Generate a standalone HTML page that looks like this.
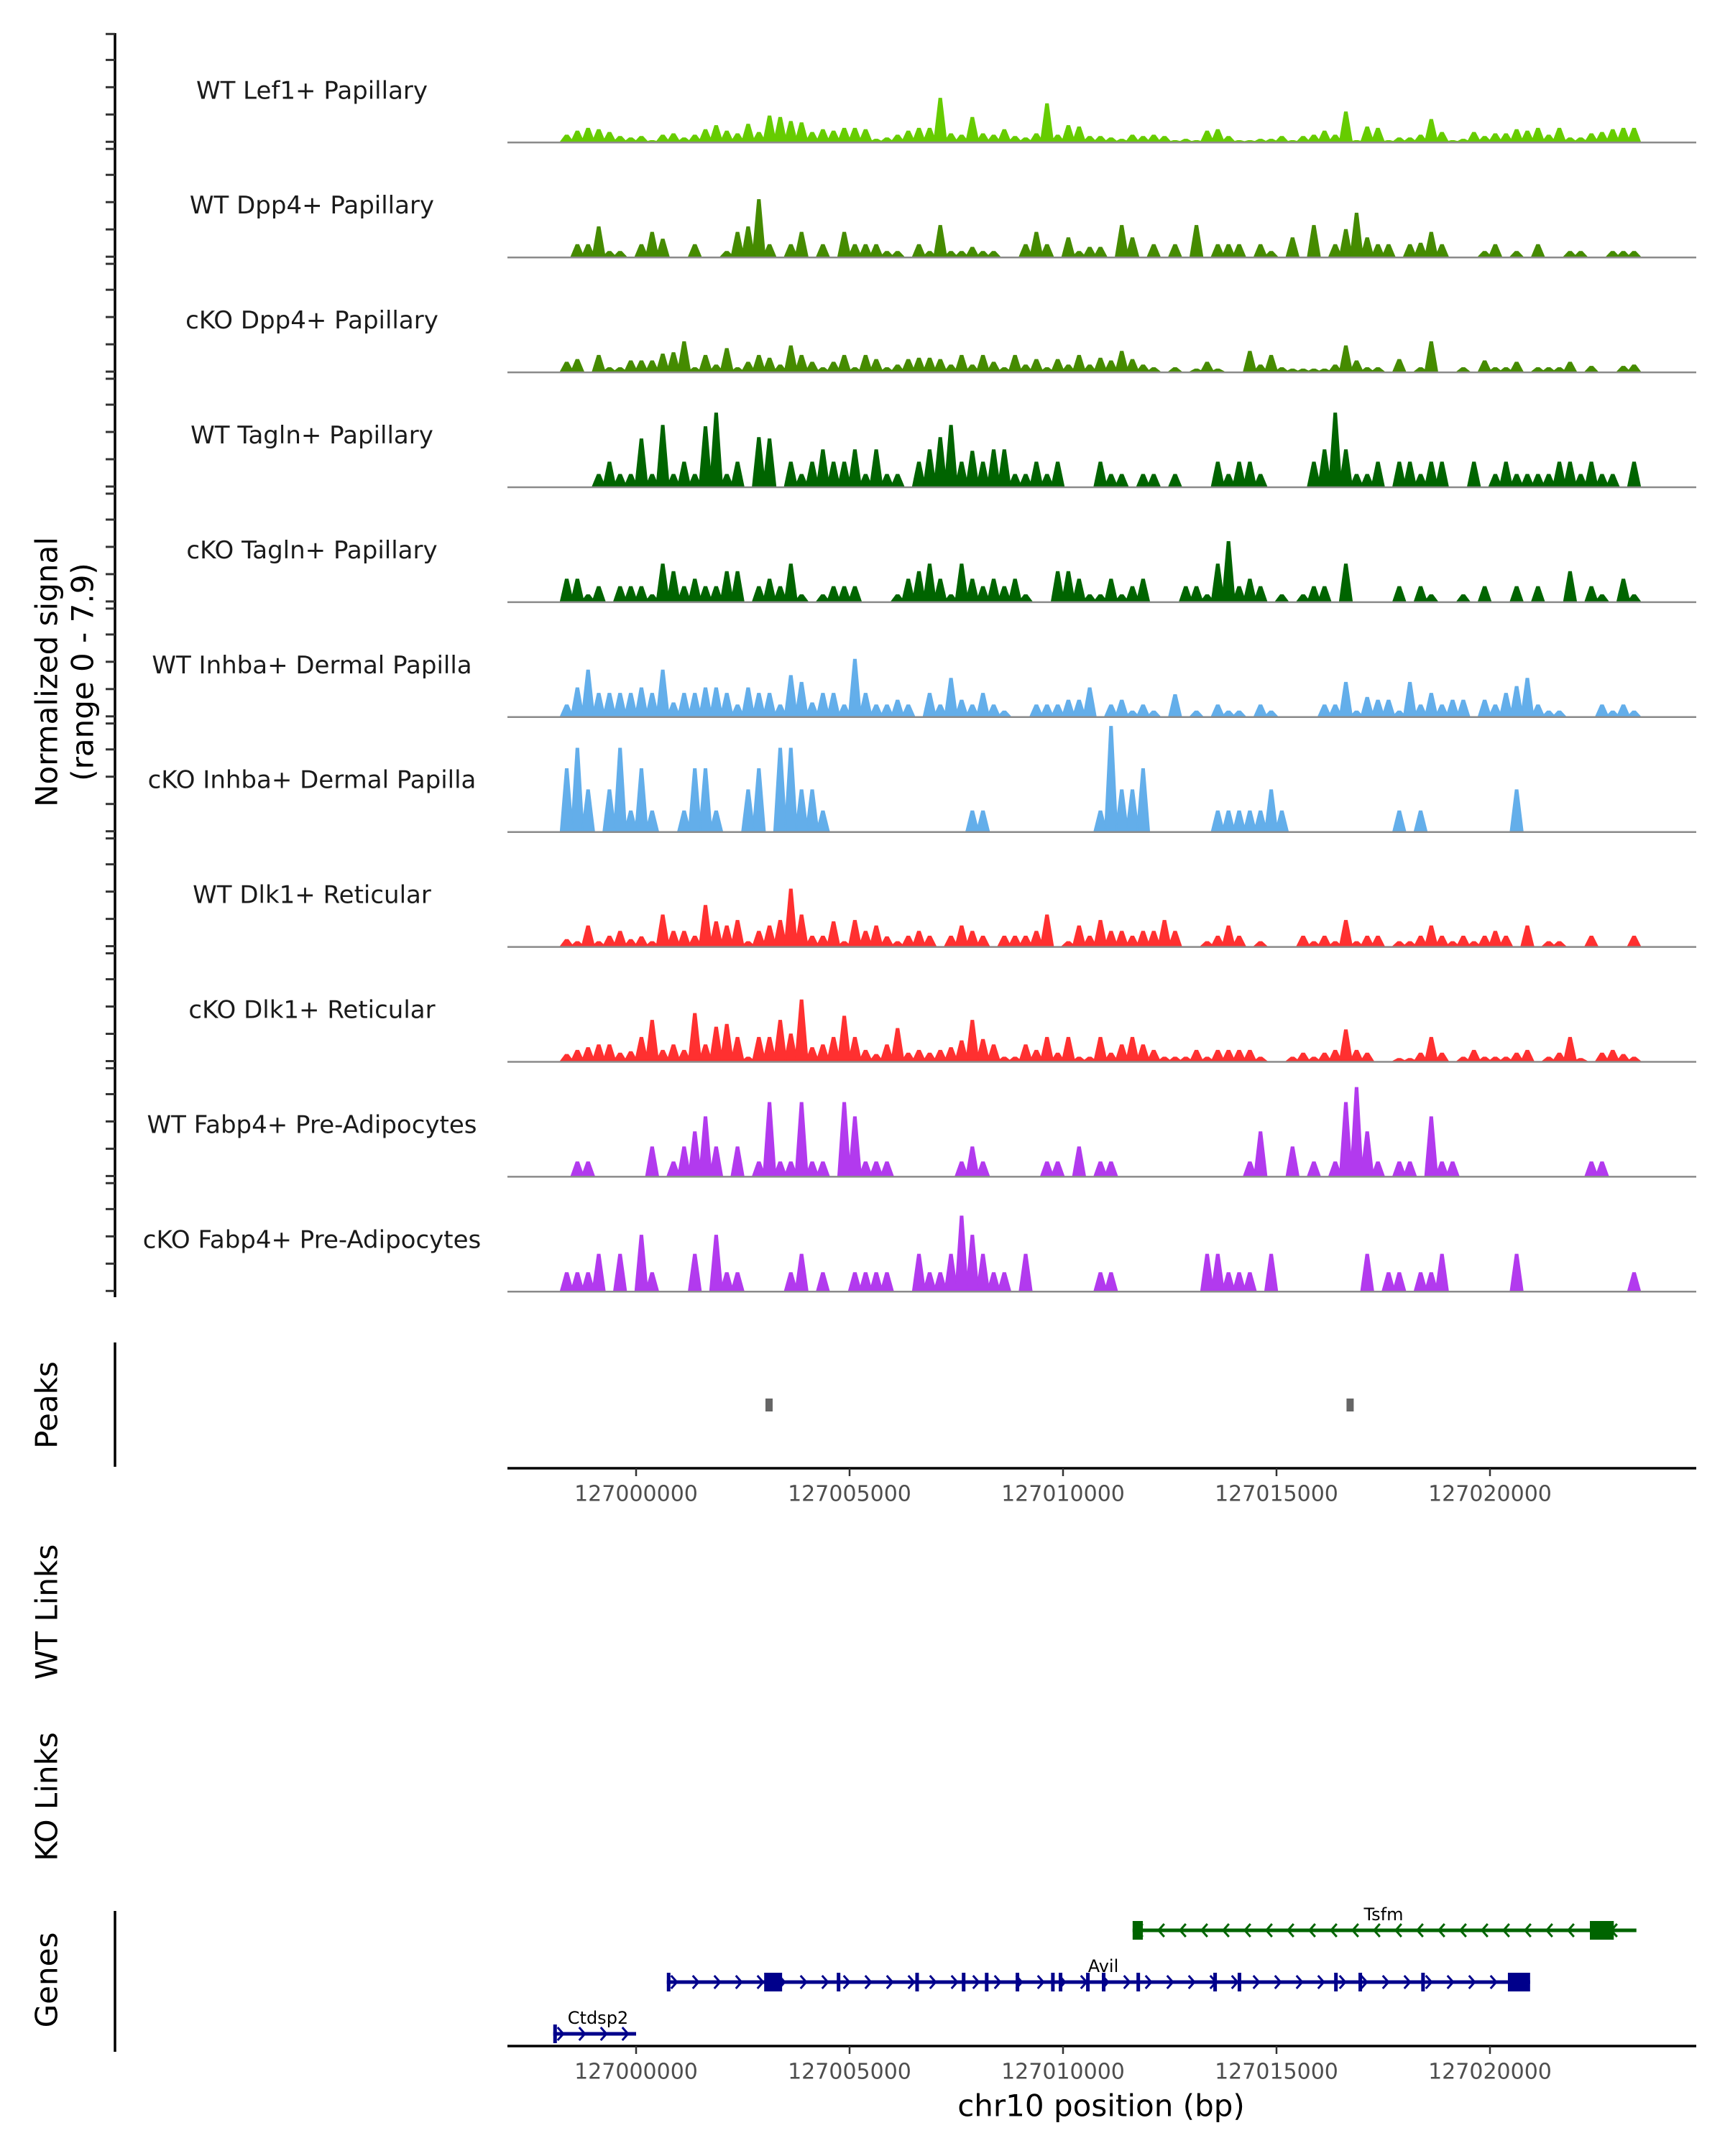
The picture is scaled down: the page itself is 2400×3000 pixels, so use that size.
<!DOCTYPE html>
<html><head><meta charset="utf-8"><title>Coverage plot chr10</title>
<style>
html,body{margin:0;padding:0;background:#fff;}
svg{display:block;font-family:"DejaVu Sans","Liberation Sans",sans-serif;}
</style></head>
<body>
<svg id="chart" width="2400" height="3000" viewBox="0 0 2400 3000" xmlns="http://www.w3.org/2000/svg">
<rect x="0" y="0" width="2400" height="3000" fill="#fff"/>
<g id="tracks"></g>
<line x1="160" y1="46" x2="160" y2="1805" stroke="#000" stroke-width="3.5"/>
<g id="yticks"></g>
<text transform="translate(65,935) rotate(-90)" text-anchor="middle" dominant-baseline="central" font-size="42" fill="#000">Normalized signal</text>
<text transform="translate(115,935) rotate(-90)" text-anchor="middle" dominant-baseline="central" font-size="42" fill="#000">(range 0 - 7.9)</text>

<line x1="160" y1="1868" x2="160" y2="2041" stroke="#000" stroke-width="3.5"/>
<text transform="translate(65,1955) rotate(-90)" text-anchor="middle" dominant-baseline="central" font-size="42">Peaks</text>
<g id="peaks"></g>
<g id="axis1"></g>

<text transform="translate(65,2243) rotate(-90)" text-anchor="middle" dominant-baseline="central" font-size="42">WT Links</text>
<text transform="translate(65,2500) rotate(-90)" text-anchor="middle" dominant-baseline="central" font-size="42">KO Links</text>

<line x1="160" y1="2659" x2="160" y2="2855" stroke="#000" stroke-width="3.5"/>
<text transform="translate(65,2755) rotate(-90)" text-anchor="middle" dominant-baseline="central" font-size="42">Genes</text>
<g id="genes"></g>
<g id="axis2"></g>
<text x="1532" y="2930" text-anchor="middle" dominant-baseline="central" font-size="42" fill="#000">chr10 position (bp)</text>
</svg>
<script>
// ---- data ----
const trackLabels = ["WT Lef1+ Papillary","WT Dpp4+ Papillary","cKO Dpp4+ Papillary","WT Tagln+ Papillary","cKO Tagln+ Papillary","WT Inhba+ Dermal Papilla","cKO Inhba+ Dermal Papilla","WT Dlk1+ Reticular","cKO Dlk1+ Reticular","WT Fabp4+ Pre-Adipocytes","cKO Fabp4+ Pre-Adipocytes"];
const trackColors = ["#66cc00","#458b00","#458b00","#006400","#006400","#63aeea","#63aeea","#ff3030","#ff3030","#b23aee","#b23aee"];
const binStartKb = -1.625;
const binSizeKb = 0.25;
const wtLef1 = [.5,.8,1.0,.9,.7,.4,.3,.4,.1,.5, .6,.3,.5,.9,1.2,.8,.6,1.3,.7,1.9, 1.8,1.5,1.4,.7,.9,.8,1.0,1.0,.9,.2, .3,.5,.8,1.0,1.0,3.2,.6,.5,1.8,.6, .5,.9,.4,.3,.6,2.8,.5,1.2,1.1,.4, .4,.3,.2,.5,.4,.5,.4,.1,.2,.1, .8,.9,.4,.1,.1,.2,.2,.4,.1,.4, .5,.8,.5,2.2,.1,1.1,1.0,.1,.3,.3, .5,1.65,.7,.1,.2,.7,.4,.6,.6,.9, .8,1.0,.5,1.0,.3,.3,.6,.7,.9,1.0,1.0];
const wtDpp4 = [0,.9,.9,2.2,.4,.4,0,.9,1.8,1.3, 0,0,.9,0,0,.4,1.8,2.2,4.2,.9, 0,.9,1.8,0,.9,0,1.8,.9,.9,.9, .4,.4,0,.9,.4,2.3,.4,.4,.7,.4, .4,0,0,.9,1.8,.9,0,1.4,.4,.7, .7,0,2.3,1.4,0,.9,0,.9,0,2.3, 0,.9,.9,.9,0,.9,.4,0,1.4,0, 2.3,0,.9,2.0,3.2,1.4,.9,.9,0,.9, 1.0,1.8,.9,0,0,0,.4,.9,0,.4, 0,.9,0,0,.4,.4,0,0,.4,.4,.4];
const koDpp4 = [.7,.9,0,1.2,.3,.3,.8,.8,.8,1.3, 1.4,2.2,.3,1.2,.5,1.7,.3,.7,1.2,1.0, .5,1.9,1.2,.7,.3,.7,1.2,.3,1.2,.9, .3,.5,.9,1.0,1.0,.9,.5,1.2,.5,1.2, .7,.3,1.2,.5,.9,.3,.9,.5,1.2,.5, 1.0,.8,1.5,.9,.5,.3,0,.3,0,.2, .7,.2,0,0,1.5,.5,1.2,.3,.2,.2, .2,.2,.5,1.9,.8,.3,.3,0,.9,0, .3,2.2,0,0,.3,0,.8,.3,.3,.7, 0,.3,.3,.3,.7,0,.4,0,0,.4,.5];
const wtTagln = [0,0,0,.9,1.8,.9,.9,3.5,.9,4.5, .9,1.8,.9,4.4,5.4,.9,1.8,0,3.6,3.5, 0,1.8,.9,1.8,2.7,1.8,1.8,2.7,.9,2.7, .9,.9,0,1.8,2.7,3.6,4.5,1.8,2.6,1.8, 2.7,2.7,.9,.9,1.8,.9,1.8,0,0,0, 1.8,.9,.9,0,.9,.9,0,.9,0,0, 0,1.8,.9,1.8,1.8,.9,0,0,0,0, 1.8,2.7,5.4,2.7,.9,.9,1.8,0,1.8,1.8, .9,1.8,1.8,0,0,1.8,0,.9,1.8,.9, .9,.9,.9,1.8,1.8,.9,1.8,.9,.9,0,1.8];
const koTagln = [1.65,1.65,.5,1.1,0,1.1,1.1,1.1,.5,2.75, 2.2,1.1,1.65,1.1,1.1,2.2,2.2,0,1.1,1.65, 1.1,2.75,.5,0,.5,1.1,1.1,1.1,0,0, 0,.5,1.65,2.2,2.75,1.65,.5,2.75,1.65,1.1, 1.65,1.1,1.65,.5,0,0,2.2,2.2,1.65,.5, .5,1.65,.5,1.1,1.65,0,0,0,1.1,1.1, .5,2.75,4.4,1.1,1.65,1.1,0,.5,0,.5, 1.1,1.1,0,2.75,0,0,0,0,1.1,0, 1.1,.5,0,0,.5,0,1.1,0,0,1.1, 0,1.1,0,0,2.2,0,1.1,.5,0,1.65,.5];
const wtInhba = [.85,2.1,3.4,1.7,1.7,1.7,1.7,2.1,1.7,3.4, 1.0,1.7,1.7,2.1,2.1,1.7,.85,2.1,1.7,1.7, .85,3.0,2.5,1.0,1.7,1.7,.85,4.2,1.7,.85, .85,1.2,.85,0,1.7,.85,2.8,1.2,.85,1.7, .85,.4,0,0,.85,.85,.85,1.2,1.2,2.1, 0,.85,1.2,.4,.85,.4,0,1.6,0,.4, 0,.85,.4,.4,0,.85,.4,0,0,0, 0,.85,.85,2.5,.4,1.4,1.2,1.2,.4,2.5, .85,1.7,.85,1.2,1.2,0,1.2,.85,1.7,2.2, 2.8,.85,.4,.4,0,0,0,.85,.4,.85,.4];
const koInhba = [4.6,6.1,3.05,0,3.05,6.1,1.5,4.6,1.5,0, 0,1.5,4.6,4.6,1.5,0,0,3.05,4.6,0, 6.1,6.1,3.05,3.05,1.5,0,0,0,0,0, 0,0,0,0,0,0,0,0,1.5,1.5, 0,0,0,0,0,0,0,0,0,0, 1.5,7.7,3.05,3.05,4.6,0,0,0,0,0, 0,1.5,1.5,1.5,1.5,1.5,3.05,1.5,0,0, 0,0,0,0,0,0,0,0,1.5,0, 1.5,0,0,0,0,0,0,0,0,3.05, 0,0,0,0,0,0,0,0,0,0,0];
const wtDlk1 = [.5,.35,1.5,.35,.75,1.1,.5,.7,.35,2.3, 1.1,1.1,.75,3.0,1.8,1.5,1.9,.35,1.1,1.5, 1.9,4.2,2.3,.75,.75,1.8,.35,1.9,1.1,1.5, .7,.35,.75,1.1,.75,0,.75,1.5,1.1,.75, 0,.75,.75,.75,1.1,2.3,0,.35,1.5,.75, 1.9,1.1,1.1,.75,1.1,1.1,1.9,1.1,0,0, .35,.75,1.5,.75,0,.35,0,0,0,.75, .35,.75,.35,1.9,.35,.75,.75,0,.35,.35, .75,1.5,.75,.35,.75,.35,.75,1.1,.75,0, 1.5,0,.35,.35,0,0,.75,0,0,0,.75];
const koDlk1 = [.5,.8,1.0,1.2,1.2,.6,.7,1.75,3.0,.8, 1.2,.8,3.5,1.2,2.5,2.7,1.75,.3,1.75,1.75, 3.0,2.0,4.5,1.0,1.2,1.75,3.3,1.75,.8,.5, 1.2,2.4,.6,.8,.6,.8,1.0,1.5,3.0,1.6, 1.2,.3,.3,1.2,.8,1.75,.6,1.75,.3,.3, 1.75,.6,1.2,1.75,1.2,.8,.3,.3,.3,.8, .3,.8,.8,.8,.8,.3,0,0,.3,.6, .3,.6,.8,2.3,.8,.6,0,0,.2,.2, .6,1.75,.6,0,.3,.8,.3,.3,.3,.6, .8,0,.3,.6,1.75,.2,0,.6,.8,.5,.3];
const wtFabp4 = [0,1.05,1.05,0,0,0,0,0,2.15,0, 1.05,2.15,3.25,4.35,2.15,0,2.15,0,1.05,5.4, 1.05,1.05,5.4,1.05,1.05,0,5.4,4.35,1.05,1.05, 1.05,0,0,0,0,0,0,1.05,2.15,1.05, 0,0,0,0,0,1.05,1.05,0,2.15,0, 1.05,1.05,0,0,0,0,0,0,0,0, 0,0,0,0,1.05,3.25,0,0,2.15,0, 1.05,0,1.05,5.4,6.5,3.25,1.05,0,1.05,1.05, 0,4.35,1.05,1.05,0,0,0,0,0,0, 0,0,0,0,0,0,1.05,1.05,0,0,0];
const koFabp4 = [1.35,1.35,1.35,2.7,0,2.7,0,4.1,1.35,0, 0,0,2.7,0,4.1,1.35,1.35,0,0,0, 0,1.35,2.7,0,1.35,0,0,1.35,1.35,1.35, 1.35,0,0,2.7,1.35,1.35,2.7,5.5,4.1,2.7, 1.35,1.35,0,2.7,0,0,0,0,0,0, 1.35,1.35,0,0,0,0,0,0,0,0, 2.7,2.7,1.35,1.35,1.35,0,2.7,0,0,0, 0,0,0,0,0,2.7,0,1.35,1.35,0, 1.35,1.35,2.7,0,0,0,0,0,0,2.7, 0,0,0,0,0,0,0,0,0,0,1.35];
const trackSeries = [wtLef1,wtDpp4,koDpp4,wtTagln,koTagln,wtInhba,koInhba,wtDlk1,koDlk1,wtFabp4,koFabp4];
const signalMax = 7.9;
const yTickValues = [0,2,4,6,7.9];
const xTickKb = [0,5,10,15,20];
const xTickLabels = ["127000000","127005000","127010000","127015000","127020000"];
const peakStartsKb = [3.03,16.64];
const peakEndsKb = [3.13,16.78];
// genes (kb offset from 127000000)
const geneNames = ["Tsfm","Avil","Ctdsp2"];
const geneStarts = [11.63,0.72,-1.94];
const geneEnds = [23.43,20.94,0.0];
const geneStrands = [-1,1,1];
const geneColors = ["#006400","#00008b","#00008b"];
const tsfmExons = [[11.63,11.87],[22.34,22.9]];
const avilExons = [[0.72,0.8],[3.0,3.42],[4.7,4.76],[6.54,6.6],[7.63,7.7],[8.17,8.24],[8.89,8.95],[9.72,9.78],[9.9,9.96],[10.54,10.6],[10.91,10.98],[11.72,11.79],[13.52,13.58],[14.09,14.15],[16.35,16.42],[16.92,16.98],[18.39,18.45],[20.42,20.94]];
const ctdsp2Exons = [[-1.94,-1.9]];
const geneExons = [tsfmExons,avilExons,ctdsp2Exons];
const geneRowY = [2686,2758,2830];

// ---- scales ----
const NS = "http://www.w3.org/2000/svg";
function xs(kb){ return 885 + 59.4*kb; }
const trackHeight = 150;
function baseY(i){ return 197.3 + 159.9*i; }
function ys(i,v){ return baseY(i) - v/signalMax*trackHeight; }
function mk(tag, attrs, parent){ const e=document.createElementNS(NS,tag); for(const k in attrs) e.setAttribute(k,attrs[k]); parent.appendChild(e); return e; }

// ---- tracks ----
const tracksG = document.getElementById("tracks");
const ytG = document.getElementById("yticks");
const binPx = binSizeKb*59.4;
const baseHalf = binPx*0.62, topHalf = binPx*0.14;
trackSeries.forEach((ser, i) => {
  const g = mk("g", {}, tracksG);
  
  
  const lab = mk("text", {x:434, y:baseY(i)-71, "text-anchor":"middle", "dominant-baseline":"central", "font-size":34, fill:"#1a1a1a"}, g);
  lab.textContent = trackLabels[i];
  
  
  let d = "";
  ser.forEach((v, j) => {
    if (v <= 0) return;
    const c = xs(binStartKb + binSizeKb*j);
    const b = baseY(i);
    const t = ys(i,v);
    d += "M" + (c-baseHalf).toFixed(1) + "," + b.toFixed(1) + "L" + (c-topHalf).toFixed(1) + "," + t.toFixed(1) + "L" + (c+topHalf).toFixed(1) + "," + t.toFixed(1) + "L" + (c+baseHalf).toFixed(1) + "," + b.toFixed(1) + "Z";
  });
  const area = mk("path", {d:d, fill:trackColors[i], stroke:trackColors[i], "stroke-width":0.8}, g);
  
  
  const bl = mk("line", {x1:706, x2:2360, y1:baseY(i)+1, y2:baseY(i)+1, stroke:"#8a8a8a", "stroke-width":2.5}, g);
  
  
  yTickValues.forEach(t => {
    const tk = mk("line", {x1:147, x2:160, y1:ys(i,t), y2:ys(i,t), stroke:"#333", "stroke-width":3}, ytG);
    
    
  });
});

// ---- peaks ----
const pG = document.getElementById("peaks");
peakStartsKb.forEach((s, i) => {
  const r = mk("rect", {x:xs(s), y:1946, width:Math.max(10, xs(peakEndsKb[i])-xs(s)), height:18, fill:"#666"}, pG);
  
  
});

// ---- axes ----
function drawAxis(gid, y){
  const g = document.getElementById(gid);
  const ln = mk("line", {x1:706, x2:2360, y1:y, y2:y, stroke:"#000", "stroke-width":3.5}, g);
  
  
  xTickKb.forEach((k, i) => {
    const t = mk("line", {x1:xs(k), x2:xs(k), y1:y, y2:y+11, stroke:"#333", "stroke-width":2.5}, g);
    
    
    const tl = mk("text", {x:xs(k), y:y+36, "text-anchor":"middle", "dominant-baseline":"central", "font-size":30, fill:"#4d4d4d"}, g);
    tl.textContent = xTickLabels[i];
    
    
  });
}
drawAxis("axis1", 2043);
drawAxis("axis2", 2847);

// ---- genes ----
const gG = document.getElementById("genes");
const geneLabelX = [1925,1535,832];
geneNames.forEach((name, i) => {
  const g = mk("g", {}, gG);
  
  
  const y = geneRowY[i], col = geneColors[i];
  const x1 = xs(geneStarts[i]), x2 = xs(geneEnds[i]);
  const ln = mk("line", {x1:x1, x2:x2, y1:y, y2:y, stroke:col, "stroke-width":5}, g);
  
  
  let d = "";
  for (let x = x1 + 10; x < x2 - 4; x += 30) {
    const s = geneStrands[i];
    d += "M" + (x - 4*s) + "," + (y-9) + "L" + (x + 4*s) + "," + y + "L" + (x - 4*s) + "," + (y+9);
  }
  const ch = mk("path", {d:d, fill:"none", stroke:col, "stroke-width":3}, g);
  
  
  geneExons[i].forEach(ex => {
    const r = mk("rect", {x:xs(ex[0]), y:y-13, width:Math.max(5, xs(ex[1])-xs(ex[0])), height:26, fill:col}, g);
    
    
  });
  const lab = mk("text", {x:geneLabelX[i], y:y-14, "text-anchor":"middle", "font-size":24, fill:"#000"}, g);
  lab.textContent = name;
  
  
});
</script>
</body></html>
